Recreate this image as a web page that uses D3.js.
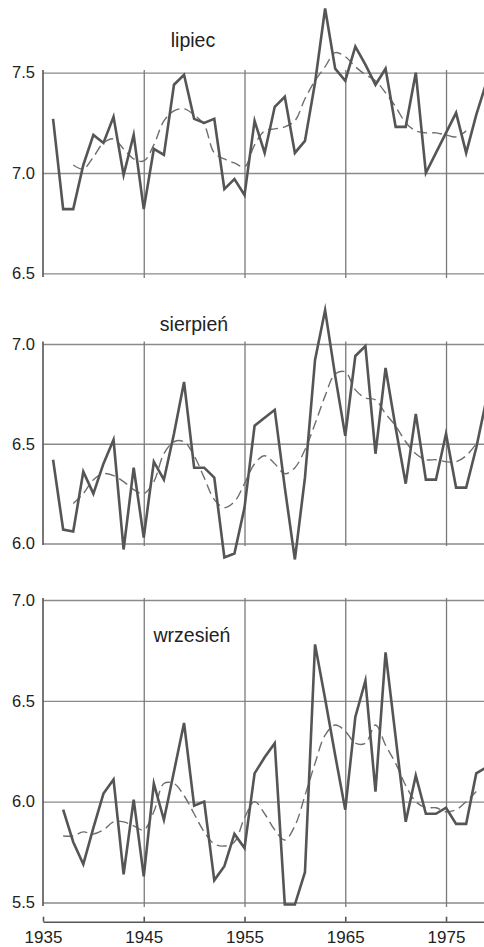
<!DOCTYPE html>
<html>
<head>
<meta charset="utf-8">
<script src="https://cdn.jsdelivr.net/npm/d3@7"></script>
<style>
  html, body { margin: 0; padding: 0; background: #fff; }
  svg { display: block; }
  text { font-family: "Liberation Sans", Arial, sans-serif; fill: #222; }
</style>
</head>
<body>
<svg id="chart" width="484" height="947"></svg>
<script>
// Years covered by the monthly series
const years = [1936, 1937, 1938, 1939, 1940, 1941, 1942, 1943, 1944, 1945,
               1946, 1947, 1948, 1949, 1950, 1951, 1952, 1953, 1954, 1955,
               1956, 1957, 1958, 1959, 1960, 1961, 1962, 1963, 1964, 1965,
               1966, 1967, 1968, 1969, 1970, 1971, 1972, 1973, 1974, 1975,
               1976, 1977, 1978, 1979];

// July (lipiec): yearly values 1936-1979, smoothed curve 1938-1977
const julyValues = [7.27, 6.82, 6.82, 7.04, 7.19, 7.15, 7.28, 6.99, 7.19, 6.82,
                    7.12, 7.09, 7.44, 7.49, 7.27, 7.25, 7.27, 6.92, 6.97, 6.89,
                    7.26, 7.10, 7.33, 7.38, 7.10, 7.16, 7.45, 7.82, 7.52, 7.46,
                    7.63, 7.54, 7.44, 7.52, 7.23, 7.23, 7.50, 7.00, 7.10, 7.20,
                    7.30, 7.10, 7.29, 7.45];
const julySmooth = [7.04, 7.02, 7.08, 7.15, 7.17, 7.12, 7.07, 7.06, 7.14, 7.26,
                    7.31, 7.32, 7.29, 7.24, 7.10, 7.07, 7.05, 7.03, 7.14, 7.21,
                    7.22, 7.23, 7.26, 7.37, 7.46, 7.53, 7.60, 7.58, 7.53, 7.49,
                    7.46, 7.40, 7.33, 7.25, 7.21, 7.20, 7.20, 7.19, 7.18, 7.21];

// August (sierpień): yearly values 1936-1979, smoothed curve 1938-1978
const augustValues = [6.42, 6.07, 6.06, 6.36, 6.25, 6.40, 6.52, 5.97, 6.38, 6.03,
                      6.41, 6.32, 6.55, 6.81, 6.38, 6.38, 6.33, 5.93, 5.95, 6.18,
                      6.59, 6.63, 6.67, 6.28, 5.92, 6.33, 6.92, 7.17, 6.84, 6.54,
                      6.94, 6.99, 6.45, 6.88, 6.58, 6.30, 6.65, 6.32, 6.32, 6.55,
                      6.28, 6.28, 6.48, 6.72];
const augustSmooth = [6.20, 6.25, 6.32, 6.35, 6.34, 6.31, 6.27, 6.25, 6.31, 6.45,
                      6.51, 6.51, 6.44, 6.33, 6.22, 6.18, 6.21, 6.30, 6.40, 6.44,
                      6.40, 6.35, 6.38, 6.47, 6.60, 6.74, 6.85, 6.86, 6.77, 6.73,
                      6.72, 6.65, 6.59, 6.51, 6.45, 6.42, 6.42, 6.41, 6.41, 6.44,
                      6.50];

// September (wrzesień): yearly values 1937-1979, smoothed curve 1937-1978
const septemberValues = [5.96, 5.80, 5.69, 5.87, 6.04, 6.11, 5.64, 6.01, 5.63, 6.09,
                         5.91, 6.15, 6.39, 5.98, 6.00, 5.61, 5.68, 5.84, 5.77, 6.14,
                         6.22, 6.29, 5.49, 5.49, 5.65, 6.78, 6.51, 6.23, 5.96, 6.42,
                         6.60, 6.05, 6.74, 6.32, 5.90, 6.13, 5.94, 5.94, 5.97, 5.89,
                         5.89, 6.14, 6.17];
const septemberSmooth = [5.83, 5.83, 5.85, 5.84, 5.86, 5.90, 5.90, 5.88, 5.86, 5.95,
                         6.09, 6.09, 6.03, 5.94, 5.85, 5.79, 5.78, 5.80, 5.92, 6.00,
                         5.94, 5.86, 5.81, 5.88, 6.03, 6.19, 6.33, 6.38, 6.35, 6.29,
                         6.29, 6.38, 6.28, 6.19, 6.08, 6.00, 5.97, 5.97, 5.95, 5.96,
                         6.00, 6.05];

// Axis tick labels
const decadeTicks = [1935, 1945, 1955, 1965, 1975];
const gridYears = [1945, 1955, 1965, 1975];
const julyTicks = [6.5, 7.0, 7.5];
const augustTicks = [6.0, 6.5, 7.0];
const septemberTicks = [5.5, 6.0, 6.5, 7.0];

const W = 484, H = 947;
const svg = d3.select("#chart");

const x = d3.scaleLinear().domain([1935, 1978.77]).range([43, 484]);
const axisX = x(1935);

function series(startYear, values) {
  const i0 = years.indexOf(startYear);
  return values.map((v, i) => ({ year: years[i0 + i], value: v }));
}

const panels = [
  { title: "lipiec", ticks: julyTicks, domain: [6.5, 7.5], range: [273.3, 72.7],
    gridTop: 70, gridBottom: 278, titleX: 193, titleY: 47,
    values: series(1936, julyValues), smooth: series(1938, julySmooth) },
  { title: "sierpień", ticks: augustTicks, domain: [6.0, 7.0], range: [543.5, 344],
    gridTop: 341.5, gridBottom: 546, titleX: 194, titleY: 331,
    values: series(1936, augustValues), smooth: series(1938, augustSmooth) },
  { title: "wrzesień", ticks: septemberTicks, domain: [5.5, 7.0], range: [902.5, 600],
    gridTop: 598, gridBottom: 907, titleX: 192, titleY: 642,
    values: series(1937, septemberValues), smooth: series(1937, septemberSmooth) }
];

const fmt = d3.format(".1f");

panels.forEach(p => {
  const y = d3.scaleLinear().domain(p.domain).range(p.range);
  const g = svg.append("g");

  // horizontal grid + value labels
  const yAxis = g.append("g")
    .attr("transform", `translate(${axisX},0)`)
    .call(d3.axisLeft(y).tickValues(p.ticks).tickFormat(fmt)
      .tickSize(-(W - axisX)).tickPadding(8));
  yAxis.select(".domain").remove();
  yAxis.selectAll(".tick line").attr("stroke", "#8a8a8a").attr("stroke-width", 1.3);
  yAxis.selectAll(".tick text")
    .style("font-family", '"Liberation Sans", Arial, sans-serif')
    .style("font-size", "16.5px").attr("fill", "#222");

  // vertical grid at decades
  const xGrid = g.append("g")
    .attr("transform", `translate(0,${p.gridBottom})`)
    .call(d3.axisBottom(x).tickValues(gridYears).tickFormat("")
      .tickSize(-(p.gridBottom - p.gridTop)).tickSizeOuter(0));
  xGrid.select(".domain").remove();
  xGrid.selectAll(".tick line").attr("stroke", "#7a7a7a").attr("stroke-width", 1.3);

  // value axis line
  g.append("line")
    .attr("x1", axisX).attr("x2", axisX)
    .attr("y1", p.gridTop).attr("y2", p.gridBottom - 1)
    .attr("stroke", "#555").attr("stroke-width", 1.6);

  // smoothed curve (dashed)
  g.append("path")
    .datum(p.smooth)
    .attr("fill", "none")
    .attr("stroke", "#6e6e6e")
    .attr("stroke-width", 1.4)
    .attr("stroke-dasharray", "10,5")
    .attr("d", d3.line().x(d => x(d.year)).y(d => y(d.value)).curve(d3.curveCatmullRom));

  // yearly values (solid)
  g.append("path")
    .datum(p.values)
    .attr("fill", "none")
    .attr("stroke", "#555")
    .attr("stroke-width", 2.6)
    .attr("stroke-linejoin", "miter")
    .attr("stroke-miterlimit", 6)
    .attr("d", d3.line().x(d => x(d.year)).y(d => y(d.value)));

  g.append("text")
    .attr("x", p.titleX).attr("y", p.titleY)
    .attr("text-anchor", "middle")
    .style("font-size", "19.5px")
    .text(p.title);
});

// time axis at the bottom
const xAxis = svg.append("g")
  .attr("transform", "translate(0,921.7)")
  .call(d3.axisBottom(x).tickValues(decadeTicks).tickFormat(d3.format("d"))
    .tickSize(-5).tickSizeOuter(0).tickPadding(9));
xAxis.select(".domain").attr("stroke", "#555").attr("stroke-width", 1.6);
xAxis.selectAll(".tick line").attr("stroke", "#555").attr("stroke-width", 1.6);
xAxis.selectAll(".tick text")
  .style("font-family", '"Liberation Sans", Arial, sans-serif')
  .style("font-size", "17px").attr("fill", "#222");
</script>
</body>
</html>
